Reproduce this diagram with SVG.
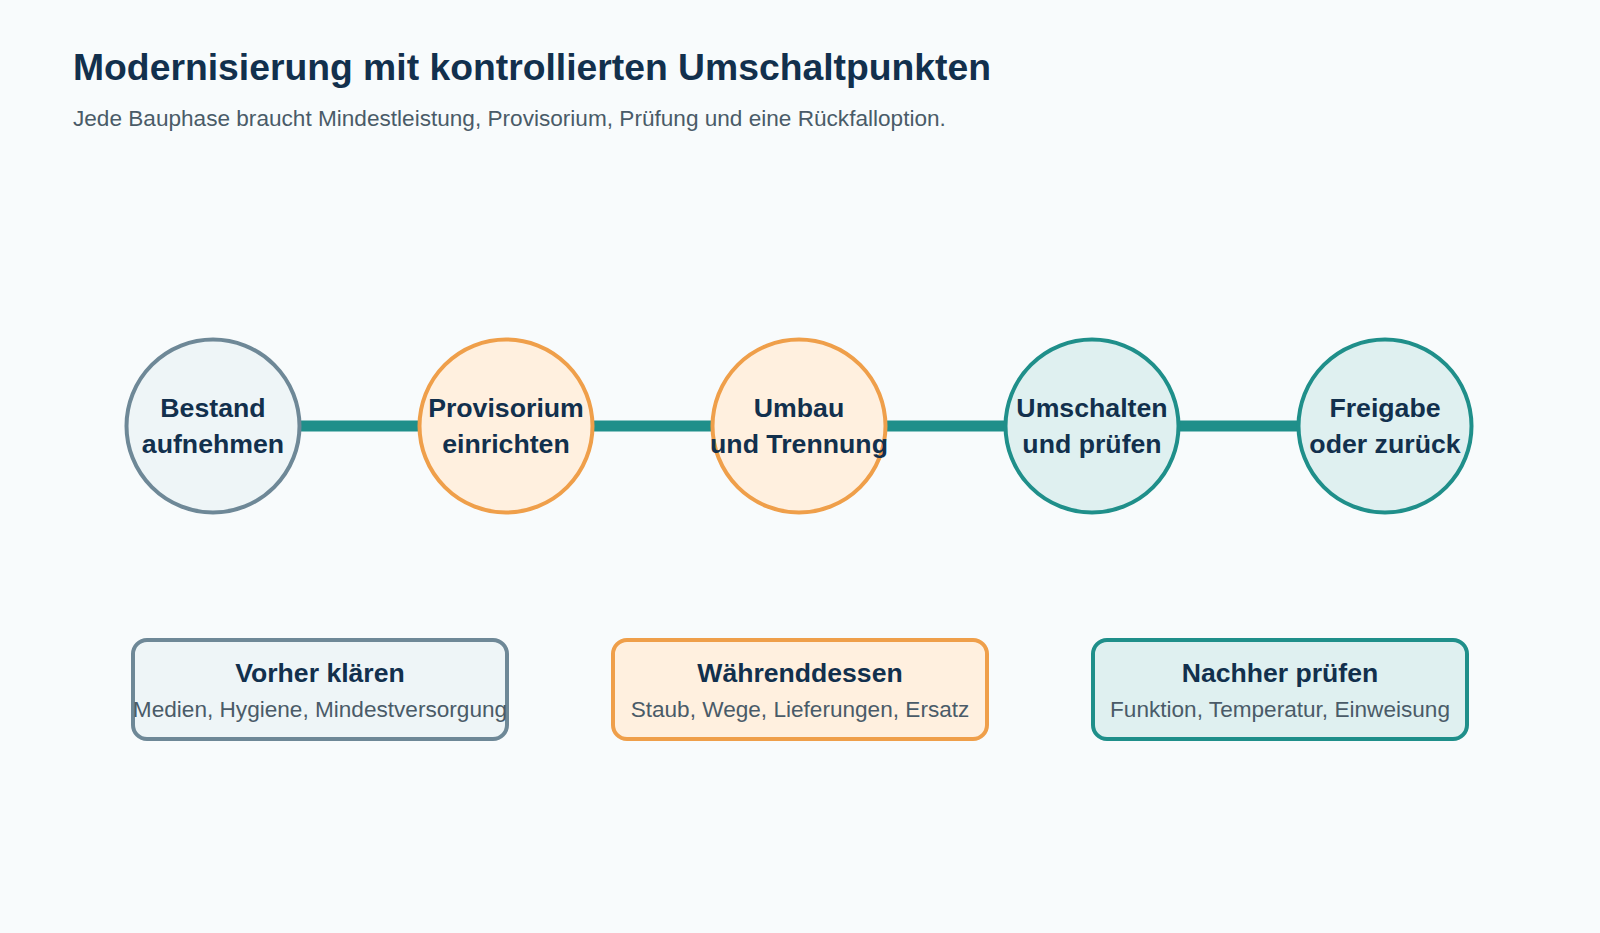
<svg xmlns="http://www.w3.org/2000/svg" width="1600" height="933" viewBox="0 0 1600 933">
<style>
.title{font-family:"Liberation Sans",Arial,sans-serif;font-weight:bold;font-size:37.3px;fill:#12304d}
.sub{font-family:"Liberation Sans",Arial,sans-serif;font-size:22.6px;fill:#4a5b68}
.lbl{font-family:"Liberation Sans",Arial,sans-serif;font-weight:bold;font-size:26.7px;fill:#12304d;text-anchor:middle}
.bt{font-family:"Liberation Sans",Arial,sans-serif;font-weight:bold;font-size:26.6px;fill:#12304d;text-anchor:middle}
.bs{font-family:"Liberation Sans",Arial,sans-serif;font-size:22.6px;fill:#4a5b68;text-anchor:middle}
.slate{fill:#eef5f7;stroke:#6e8897;stroke-width:4}
.orange{fill:#fff0df;stroke:#ef9f4a;stroke-width:4}
.teal{fill:#dff0f0;stroke:#1f8f8a;stroke-width:4}
.conn{stroke:#1f8f8a;stroke-width:11;fill:none}
</style>
<rect width="1600" height="933" fill="#f8fbfc"/>
<text class="title" x="73" y="80">Modernisierung mit kontrollierten Umschaltpunkten</text>
<text class="sub" x="73" y="126">Jede Bauphase braucht Mindestleistung, Provisorium, Prüfung und eine Rückfalloption.</text>
<g id="connectors">
<line class="conn" x1="298" y1="426" x2="421" y2="426"/>
<line class="conn" x1="591" y1="426" x2="714" y2="426"/>
<line class="conn" x1="884" y1="426" x2="1007" y2="426"/>
<line class="conn" x1="1177" y1="426" x2="1300" y2="426"/>
</g>
<g id="n1"><circle class="slate" cx="213" cy="426" r="86.5"/><text class="lbl" x="213" y="417">Bestand</text><text class="lbl" x="213" y="453">aufnehmen</text></g>
<g id="n2"><circle class="orange" cx="506" cy="426" r="86.5"/><text class="lbl" x="506" y="417">Provisorium</text><text class="lbl" x="506" y="453">einrichten</text></g>
<g id="n3"><circle class="orange" cx="799" cy="426" r="86.5"/><text class="lbl" x="799" y="417">Umbau</text><text class="lbl" x="799" y="453">und Trennung</text></g>
<g id="n4"><circle class="teal" cx="1092" cy="426" r="86.5"/><text class="lbl" x="1092" y="417">Umschalten</text><text class="lbl" x="1092" y="453">und prüfen</text></g>
<g id="n5"><circle class="teal" cx="1385" cy="426" r="86.5"/><text class="lbl" x="1385" y="417">Freigabe</text><text class="lbl" x="1385" y="453">oder zurück</text></g>
<g id="b1"><rect class="slate" x="133" y="640" width="374" height="99" rx="14"/><text class="bt" x="320" y="682">Vorher klären</text><text class="bs" x="320" y="717">Medien, Hygiene, Mindestversorgung</text></g>
<g id="b2"><rect class="orange" x="613" y="640" width="374" height="99" rx="14"/><text class="bt" x="800" y="682">Währenddessen</text><text class="bs" x="800" y="717">Staub, Wege, Lieferungen, Ersatz</text></g>
<g id="b3"><rect class="teal" x="1093" y="640" width="374" height="99" rx="14"/><text class="bt" x="1280" y="682">Nachher prüfen</text><text class="bs" x="1280" y="717">Funktion, Temperatur, Einweisung</text></g>
</svg>
